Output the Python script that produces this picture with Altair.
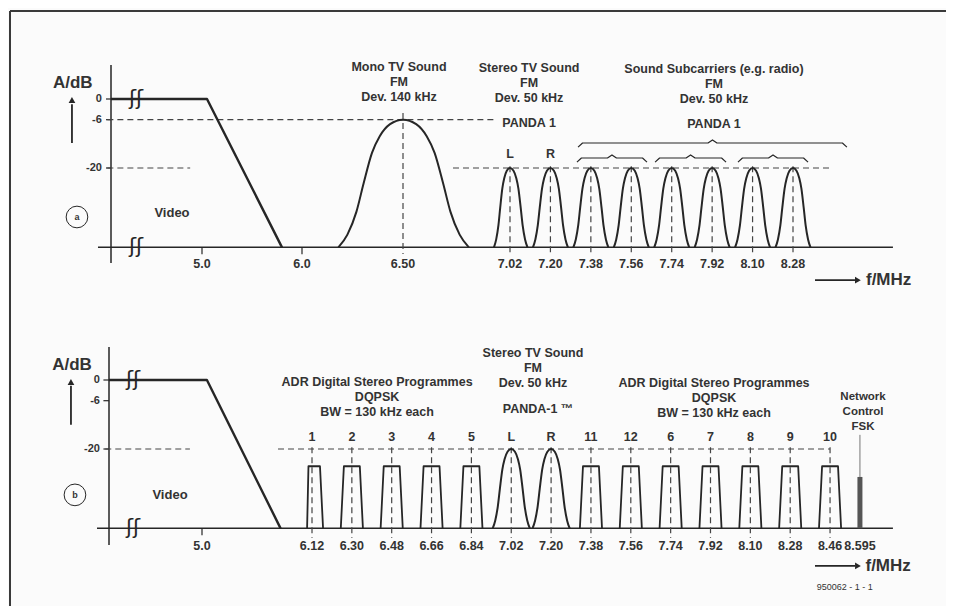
import altair as alt
import pandas as pd

INK = "#262626"
TXT = "#333333"
FONT = "Liberation Sans"
DASH = [6, 4]
BASE_DB = -43

# ---------------- data ----------------
Y_TICK_DB = [0, -6, -20]
Y_TICK_LABEL = ["0", "-6", "-20"]

# panel (a)
A_TICK_F = [5.0, 6.0, 6.50, 7.02, 7.20, 7.38, 7.56, 7.74, 7.92, 8.10, 8.28]
A_TICK_LABEL = ["5.0", "6.0", "6.50", "7.02", "7.20", "7.38", "7.56", "7.74", "7.92", "8.10", "8.28"]
VIDEO_F = [4.0, 5.05, 5.8]
VIDEO_DB = [0, 0, -43]
MONO_F = 6.50
MONO_PEAK = -6
MONO_HW = 0.32
A_FM_F = [7.02, 7.20, 7.38, 7.56, 7.74, 7.92, 8.10, 8.28]
A_FM_LABEL = ["L", "R", "", "", "", "", "", ""]
FM_PEAK = -20
FM_HW = 0.078
BRACE_START = [7.323, 7.318, 7.666, 8.035]
BRACE_END = [8.52, 7.63, 7.982, 8.347]
BRACE_DB = [-12.75, -17.1, -17.1, -17.1]

# panel (b)
B_TICK_F = [5.0, 6.12, 6.30, 6.48, 6.66, 6.84, 7.02, 7.20, 7.38, 7.56, 7.74, 7.92, 8.10, 8.28, 8.46, 8.595]
B_TICK_LABEL = ["5.0", "6.12", "6.30", "6.48", "6.66", "6.84", "7.02", "7.20", "7.38", "7.56",
                "7.74", "7.92", "8.10", "8.28", "8.46", "8.595"]
B_CH_F = [6.12, 6.30, 6.48, 6.66, 6.84, 7.02, 7.20, 7.38, 7.56, 7.74, 7.92, 8.10, 8.28, 8.46]
B_CH_LABEL = ["1", "2", "3", "4", "5", "L", "R", "11", "12", "6", "7", "8", "9", "10"]
B_CH_KIND = ["adr"] * 5 + ["fm", "fm"] + ["adr"] * 7
ADR_TOP = -25
ADR_BASE_HW = 0.05
ADR_TOP_HW = 0.036
B_FM_HW = 0.084
FSK_F = 8.595
FSK_TOP = -28.1

# carrier profile (relative position, relative height)
BUMP_T = [-1, -0.86, -0.72, -0.61, -0.48, -0.36, -0.2, 0, 0.2, 0.36, 0.48, 0.61, 0.72, 0.86, 1]
BUMP_H = [0, 0.1, 0.28, 0.5, 0.74, 0.87, 0.965, 1, 0.965, 0.87, 0.74, 0.5, 0.28, 0.1, 0]

# ---------------- scales (schematic, piecewise) ----------------
XA = alt.Scale(domain=[4.0, 5.0, 6.0, 6.5, 7.02, 8.28, 9.0],
               range=[103, 194, 294, 395, 502, 785, 946.7], nice=False, zero=False)
YA = alt.Scale(domain=[-43, 0], range=[239.35, 91], nice=False, zero=False)
XB = alt.Scale(domain=[4.0, 5.0, 6.12, 9.0], range=[101, 194, 304, 941.6], nice=False, zero=False)
YB = alt.Scale(domain=[-43, 0], range=[520.35, 372], nice=False, zero=False)


def xy(panel):
    xs, ys = (XA, YA) if panel == "a" else (XB, YB)
    return dict(x=alt.X("f:Q", scale=xs, axis=None), y=alt.Y("db:Q", scale=ys, axis=None))


layers = []


def rules(panel, segs, width=1.5, dash=None, color=INK):
    df = pd.DataFrame(segs, columns=["f", "f2", "db", "db2"])
    kw = dict(color=color, strokeWidth=width)
    if dash:
        kw["strokeDash"] = dash
    layers.append(alt.Chart(df).mark_rule(**kw).encode(
        x2="f2:Q", y2="db2:Q", **xy(panel)))


def lines(panel, rows, width=2, interp="monotone"):
    df = pd.DataFrame(rows)
    layers.append(alt.Chart(df).mark_line(color=INK, strokeWidth=width, interpolate=interp,
                                          strokeJoin="round").encode(
        detail="id:N", order="k:Q", **xy(panel)))


def texts(panel, rows, size=12.5, weight="bold", align="center", color=TXT, font=FONT):
    df = pd.DataFrame(rows, columns=["t", "f", "db"])
    layers.append(alt.Chart(df).mark_text(font=font, fontSize=size, fontWeight=weight, align=align,
                                          baseline="middle", color=color).encode(
        text="t:N", **xy(panel)))


def points(panel, rows, shape, size, filled=True, width=1):
    df = pd.DataFrame(rows, columns=["f", "db"])
    layers.append(alt.Chart(df).mark_point(shape=shape, size=size, filled=filled, color=INK,
                                           strokeWidth=width, opacity=1).encode(**xy(panel)))


def bump(cid, f0, peak, hw):
    return [dict(id=cid, k=i, f=f0 + t * hw, db=BASE_DB + h * (peak - BASE_DB))
            for i, (t, h) in enumerate(zip(BUMP_T, BUMP_H))]


def brace(cid, f0, f1, db, dy=1.2, df=0.02):
    fm = (f0 + f1) / 2
    pts = [(f0, db - dy), (f0 + df, db), (fm - df, db), (fm, db + 0.9), (fm + df, db),
           (f1 - df, db), (f1, db - dy)]
    return [dict(id=cid, k=i, f=p[0], db=p[1]) for i, p in enumerate(pts)]


# ---------------- frame ----------------
frame = pd.DataFrame({"a": [0]})
layers.append(alt.Chart(frame).mark_rule(color="#3a3a3a", strokeWidth=2).encode(
    x=alt.value(2), x2=alt.value(938), y=alt.value(3)))
layers.append(alt.Chart(frame).mark_rule(color="#3a3a3a", strokeWidth=2).encode(
    x=alt.value(2), y=alt.value(3), y2=alt.value(598)))

# ================= panel (a) =================
rules("a", [(4.0, 4.0, 9.86, -47.5), (3.857, 8.725, -43, -43)], width=1.5)
rules("a", [(3.945, 4.0, d, d) for d in Y_TICK_DB] + [(5.0, 5.0, -43, -45), (6.0, 6.0, -43, -45)], width=1.2)
rules("a", [(3.96, 6.957, -6, -6), (3.96, 4.87, -20, -20), (6.743, 8.445, -20, -20),
            (MONO_F, MONO_F, -4.06, -44.9)] + [(f, f, -19.5, -44.9) for f in A_FM_F],
      width=1.2, dash=DASH, color="#444444")
rows = [dict(id="video", k=i, f=f, db=d) for i, (f, d) in enumerate(zip(VIDEO_F, VIDEO_DB))]
lines("a", rows, width=2.4, interp="linear")
rows = bump("mono", MONO_F, MONO_PEAK, MONO_HW)
for i, f in enumerate(A_FM_F):
    rows += bump(f"fm{i}", f, FM_PEAK, FM_HW)
lines("a", rows, width=2)
rows = []
for i, (s, e, d) in enumerate(zip(BRACE_START, BRACE_END, BRACE_DB)):
    rows += brace(f"br{i}", s, e, d)
lines("a", rows, width=1.2, interp="linear")
# arrows
rules("a", [(3.571, 3.571, -12.75, -1.5), (8.378, 8.556, -52.5, -52.5)], width=1.8)
points("a", [(3.571, -0.29)], "triangle-up", 45)
points("a", [(8.569, -52.5)], "triangle-right", 45)
points("a", [(3.626, -34.2)], "circle", 470, filled=False, width=1)
# texts
texts("a", [("Mono TV Sound", 6.48, 9.3), ("FM", 6.48, 4.9), ("Dev. 140 kHz", 6.48, 0.6),
            ("Stereo TV Sound", 7.105, 9.0), ("FM", 7.105, 4.6), ("Dev. 50 kHz", 7.105, 0.3),
            ("PANDA 1", 7.105, -6.95),
            ("Sound Subcarriers (e.g. radio)", 7.928, 8.7), ("FM", 7.928, 4.35),
            ("Dev. 50 kHz", 7.928, 0.0), ("PANDA 1", 7.928, -7.25)]
      + [(l, f, -15.9) for l, f in zip(A_FM_LABEL, A_FM_F) if l]
      + [(l, f, -47.8) for l, f in zip(A_TICK_LABEL, A_TICK_F)])
texts("a", [("Video", 4.67, -33.0)], size=13)
texts("a", [("A/dB", 3.58, 4.64)], size=17)
texts("a", [("f/MHz", 8.605, -52.5)], size=17, align="left")
texts("a", [(l, 3.90, d) for l, d in zip(Y_TICK_LABEL, Y_TICK_DB)], size=11, align="right")
texts("a", [("a", 3.626, -34.2)], size=9)
texts("a", [("ʃʃ", 4.275, 0), ("ʃʃ", 4.275, -43)], size=21, weight="normal", color=INK, font="DejaVu Sans")

# ================= panel (b) =================
rules("b", [(4.0, 4.0, 9.57, -47.8), (3.871, 8.744, -43, -43)], width=1.5)
rules("b", [(3.94, 4.0, d, d) for d in Y_TICK_DB] + [(5.0, 5.0, -43, -45)], width=1.2)
rules("b", [(3.96, 4.87, -20, -20), (5.774, 8.46, -20, -20)]
      + [(f, f, -19.5, -45.8) for f in B_CH_F], width=1.2, dash=DASH, color="#444444")
rows = [dict(id="video", k=i, f=f, db=d) for i, (f, d) in enumerate(zip(VIDEO_F, VIDEO_DB))]
lines("b", rows, width=2.4, interp="linear")
rows_fm, rows_adr = [], []
for i, (f, kind) in enumerate(zip(B_CH_F, B_CH_KIND)):
    if kind == "fm":
        rows_fm += bump(f"fm{i}", f, FM_PEAK, B_FM_HW)
    else:
        pts = [(f - ADR_BASE_HW, BASE_DB), (f - ADR_TOP_HW, ADR_TOP),
               (f + ADR_TOP_HW, ADR_TOP), (f + ADR_BASE_HW, BASE_DB)]
        rows_adr += [dict(id=f"adr{i}", k=j, f=p[0], db=p[1]) for j, p in enumerate(pts)]
lines("b", rows_fm, width=2)
lines("b", rows_adr, width=1.8, interp="linear")
# FSK carrier
rules("b", [(FSK_F, FSK_F, FSK_TOP, -15.9)], width=1, color="#777777")
rules("b", [(FSK_F, FSK_F, BASE_DB, FSK_TOP)], width=5, color="#555555")
# arrows
rules("b", [(3.591, 3.591, -13.0, -1.7), (8.392, 8.573, -53.9, -53.9)], width=1.8)
points("b", [(3.591, -0.58)], "triangle-up", 45)
points("b", [(8.586, -53.9)], "triangle-right", 45)
points("b", [(3.634, -33.3)], "circle", 470, filled=False, width=1)
# texts
texts("b", [("ADR Digital Stereo  Programmes", 6.414, -0.58), ("DQPSK", 6.414, -4.93),
            ("BW = 130 kHz each", 6.414, -9.28),
            ("Stereo TV Sound", 7.118, 7.83), ("FM", 7.118, 3.48), ("Dev. 50 kHz", 7.118, -0.87),
            ("PANDA-1 ™", 7.141, -8.4),
            ("ADR Digital Stereo  Programmes", 7.936, -0.87), ("DQPSK", 7.936, -5.2),
            ("BW = 130 kHz each", 7.936, -9.57)]
      + [(l, f, -16.5) for l, f in zip(B_CH_LABEL, B_CH_F)]
      + [(l, f, -48.1) for l, f in zip(B_TICK_LABEL, B_TICK_F)])
texts("b", [("Network", 8.609, -4.93), ("Control", 8.609, -9.28), ("FSK", 8.609, -13.6)], size=11.5)
texts("b", [("Video", 4.656, -33.3)], size=13)
texts("b", [("A/dB", 3.602, 4.35)], size=17)
texts("b", [("f/MHz", 8.620, -53.9)], size=17, align="left")
texts("b", [(l, 3.903, d) for l, d in zip(Y_TICK_LABEL, Y_TICK_DB)], size=11, align="right")
texts("b", [("b", 3.634, -33.3)], size=9)
texts("b", [("950062 - 1 - 1", 8.40, -60.0)], size=9, weight="normal", align="left")
texts("b", [("ʃʃ", 4.258, 0), ("ʃʃ", 4.258, -43)], size=21, weight="normal", color=INK, font="DejaVu Sans")

chart = alt.layer(*layers).resolve_scale(x="independent", y="independent").properties(
    width=938, height=598, padding=0,
    autosize=alt.AutoSizeParams(type="none"),
    background="#fbfbfb",
).configure_view(stroke=None)

chart.save("out.html", embed_options={"renderer": "svg", "actions": False})
